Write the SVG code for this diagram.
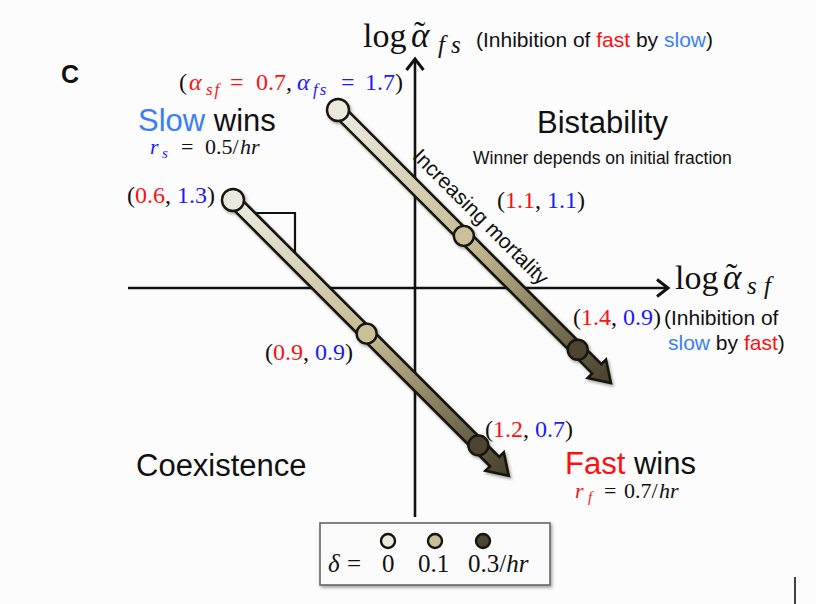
<svg xmlns="http://www.w3.org/2000/svg" width="816" height="604" viewBox="0 0 816 604">
<style>
.sans{font-family:"Liberation Sans",Arial,sans-serif;}
.serif{font-family:"Liberation Serif","Times New Roman",serif;}
.it{font-style:italic;}
.red{fill:#ff1010;}
.blue{fill:#1a1aff;}
.sblue{fill:#3a7ff5;}
.blk{fill:#111;}
.axis{stroke:#111;stroke-width:2.6;fill:none;}
.shaft{stroke:#151510;stroke-width:2.6;stroke-linejoin:miter;}
.dot{stroke:#151510;stroke-width:2.4;}
.c0{fill:#ebe9de;}
.c1{fill:#c9bf98;}
.c2{fill:#4d4532;}
</style>
<defs>
<marker id="openhead" markerUnits="userSpaceOnUse" markerWidth="30" markerHeight="30" viewBox="-15 -15 30 30" refX="0" refY="0" orient="auto" overflow="visible">
<path d="M-11,-8.5 L0,0 L-11,8.5" fill="none" stroke="#111" stroke-width="3" stroke-linejoin="miter"/>
</marker>
<linearGradient id="grad" x1="0" y1="0" x2="1" y2="0">
<stop offset="0" stop-color="#ecebe2"/>
<stop offset="0.5" stop-color="#c4b990"/>
<stop offset="1" stop-color="#463f2c"/>
</linearGradient>
<filter id="shadow" x="-10%" y="-10%" width="130%" height="130%">
<feDropShadow dx="1.5" dy="2" stdDeviation="1.5" flood-color="#000" flood-opacity="0.35"/>
</filter>
</defs>
<rect x="0" y="0" width="816" height="604" fill="#fcfcfc"/>

<g id="panel-label"><text class="sans" x="61" y="83" font-size="25" font-weight="bold" fill="#111">C</text></g>

<g id="connectors">
<line class="axis" x1="415" y1="517" x2="415" y2="59" marker-end="url(#openhead)"/>
<line class="axis" x1="128" y1="288" x2="668" y2="288" marker-end="url(#openhead)"/>
<polyline points="253,213 295,213 295,254" fill="none" stroke="#111" stroke-width="2.2"/>
</g>

<g id="trajectory-upper" filter="url(#shadow)">
<g transform="translate(338,110) rotate(45)">
<path class="shaft" fill="url(#grad)" d="M0,-6.5 L366,-6.5 L366,-13 L386,0 L366,13 L366,6.5 L0,6.5 Z"/>
<circle class="dot c0" cx="0" cy="0" r="11"/>
<circle class="dot c1" cx="178" cy="0" r="10"/>
<circle class="dot c2" cx="339" cy="0" r="10"/>
</g>
</g>

<g id="trajectory-lower" filter="url(#shadow)">
<g transform="translate(233,200) rotate(45)">
<path class="shaft" fill="url(#grad)" d="M0,-6.5 L370,-6.5 L370,-13 L390,0 L370,13 L370,6.5 L0,6.5 Z"/>
<circle class="dot c0" cx="0" cy="0" r="11"/>
<circle class="dot c1" cx="189" cy="0" r="10"/>
<circle class="dot c2" cx="347" cy="0" r="10"/>
</g>
</g>

<g id="y-axis-label">
<text class="serif blk" x="363" y="47" font-size="34">log<tspan class="it" x="411" font-size="35">α</tspan><tspan x="414" y="45">˜</tspan><tspan class="it" x="438" y="53" font-size="25">f</tspan><tspan class="it" x="451" font-size="25">s</tspan></text>
<text class="sans" x="476" y="47" font-size="21"><tspan class="blk">(Inhibition of </tspan><tspan class="red">fast</tspan><tspan class="blk"> by </tspan><tspan class="sblue">slow</tspan><tspan class="blk">)</tspan></text>
</g>

<g id="x-axis-label">
<text class="serif blk" x="675" y="289" font-size="34">log<tspan class="it" x="723" font-size="35">α</tspan><tspan x="726" y="287">˜</tspan><tspan class="it" x="747" y="294" font-size="25">s</tspan><tspan class="it" x="764" font-size="25">f</tspan></text>
<text class="sans blk" x="664" y="325" font-size="21">(Inhibition of</text>
<text class="sans" x="668" y="350" font-size="21"><tspan class="sblue">slow</tspan><tspan class="blk"> by </tspan><tspan class="red">fast</tspan><tspan class="blk">)</tspan></text>
</g>

<g id="point-labels" class="serif" font-size="24">
<text id="initial-params" x="179" y="90"><tspan class="blk">(</tspan><tspan class="red it" x="189">α</tspan><tspan class="red it" x="206" y="95" font-size="17" letter-spacing="2">sf</tspan><tspan class="red" x="230" y="90">=</tspan><tspan class="red" x="256">0.7</tspan><tspan class="blk" x="286">,</tspan><tspan class="blue it" x="297">α</tspan><tspan class="blue it" x="313" y="95" font-size="17" letter-spacing="2">fs</tspan><tspan class="blue" x="341" y="90">=</tspan><tspan class="blue" x="365">1.7</tspan><tspan class="blk" x="395">)</tspan></text>
<text x="127" y="203"><tspan class="blk">(</tspan><tspan class="red">0.6</tspan><tspan class="blk">, </tspan><tspan class="blue">1.3</tspan><tspan class="blk">)</tspan></text>
<text x="497" y="208"><tspan class="blk">(</tspan><tspan class="red">1.1</tspan><tspan class="blk">, </tspan><tspan class="blue">1.1</tspan><tspan class="blk">)</tspan></text>
<text x="265" y="360"><tspan class="blk">(</tspan><tspan class="red">0.9</tspan><tspan class="blk">, </tspan><tspan class="blue">0.9</tspan><tspan class="blk">)</tspan></text>
<text x="573" y="325"><tspan class="blk">(</tspan><tspan class="red">1.4</tspan><tspan class="blk">, </tspan><tspan class="blue">0.9</tspan><tspan class="blk">)</tspan></text>
<text x="485" y="437"><tspan class="blk">(</tspan><tspan class="red">1.2</tspan><tspan class="blk">, </tspan><tspan class="blue">0.7</tspan><tspan class="blk">)</tspan></text>
</g>

<g id="region-slow-wins">
<text class="sans" x="138" y="131" font-size="31"><tspan class="sblue">Slow</tspan><tspan class="blk"> wins</tspan></text>
<text class="serif" x="150" y="154" font-size="22"><tspan class="blue it">r</tspan><tspan class="blue it" x="162" y="158" font-size="15">s</tspan><tspan class="blk" x="181" y="154">=</tspan><tspan class="blk" x="205">0.5/</tspan><tspan class="blk it" x="240">hr</tspan></text>
</g>

<g id="region-bistability">
<text class="sans blk" x="537" y="133" font-size="31">Bistability</text>
<text class="sans blk" x="473" y="164" font-size="17.5">Winner depends on initial fraction</text>
</g>

<g id="region-coexistence">
<text class="sans blk" x="136" y="476" font-size="31">Coexistence</text>
</g>

<g id="region-fast-wins">
<text class="sans" x="565" y="474" font-size="31"><tspan class="red">Fast</tspan><tspan class="blk"> wins</tspan></text>
<text class="serif" x="575" y="498" font-size="22"><tspan class="red it">r</tspan><tspan class="red it" x="588" y="502" font-size="15">f</tspan><tspan class="blk" x="604" y="498">=</tspan><tspan class="blk" x="624">0.7/</tspan><tspan class="blk it" x="659">hr</tspan></text>
</g>

<g id="mortality-label">
<text class="sans blk" font-size="21" transform="translate(411.5,157.5) rotate(45)">Increasing mortality</text>
</g>

<g id="legend">
<rect x="320" y="523" width="230" height="62" fill="#fbfbfb" stroke="#666" stroke-width="1.6" filter="url(#shadow)"/>
<circle class="dot c0" cx="388" cy="541" r="7" stroke-width="2"/>
<circle class="dot c1" cx="435" cy="541" r="7" stroke-width="2"/>
<circle class="dot c2" cx="483" cy="541" r="7" stroke-width="2"/>
<text class="serif blk" x="328" y="572" font-size="25"><tspan class="it">δ</tspan><tspan x="347">=</tspan><tspan x="382">0</tspan><tspan x="418">0.1</tspan><tspan x="468">0.3/</tspan><tspan class="it">hr</tspan></text>
</g>

<g id="edge-mark">
<line x1="795" y1="577" x2="795" y2="604" stroke="#111" stroke-width="1.6"/>
</g>
</svg>
